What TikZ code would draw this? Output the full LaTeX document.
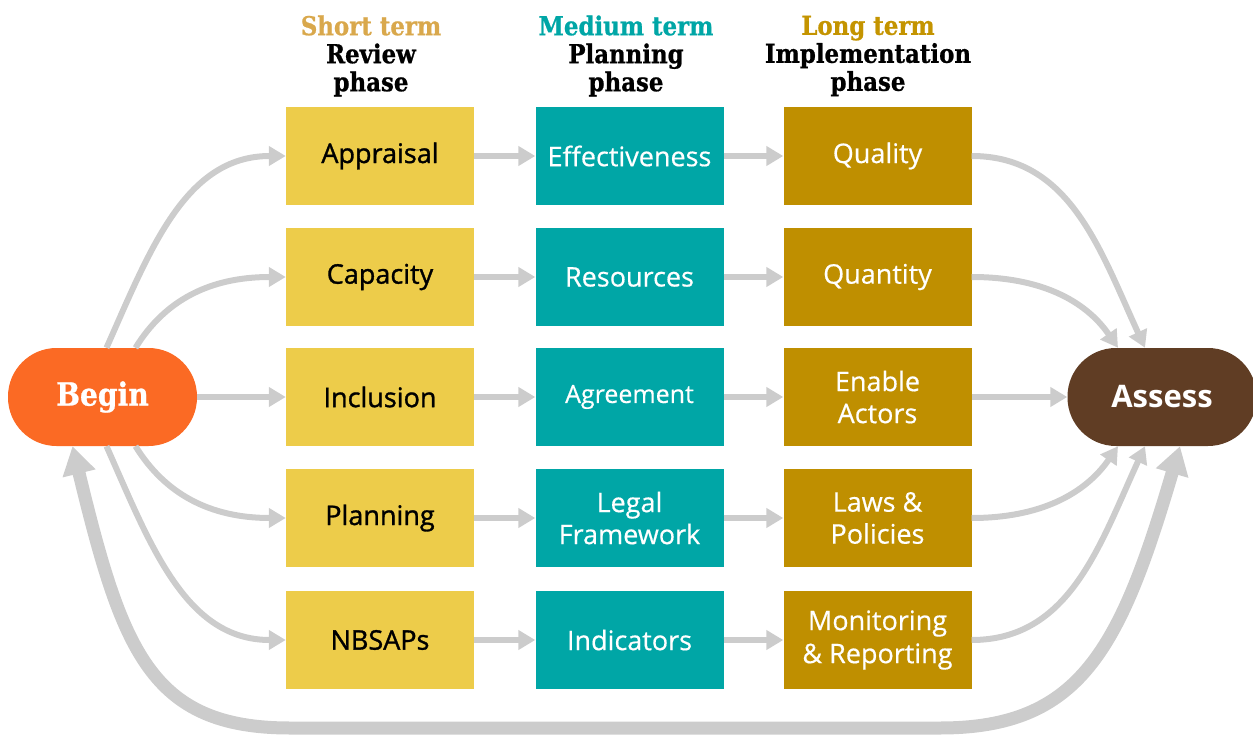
\documentclass[tikz,border=0pt]{standalone}
\usepackage{fontspec}
\setmainfont{Open Sans}
\newfontfamily\slabfont[FakeStretch=0.88,FakeBold=0.8]{DejaVu Serif}
\newfontfamily\sbfont[FakeBold=1.2]{Open Sans}
\newfontfamily\mdfont[FakeBold=0.5]{Open Sans}
\usetikzlibrary{arrows.meta}
\definecolor{cyel}{HTML}{EDCC4A}
\definecolor{cteal}{HTML}{00A6A6}
\definecolor{cgold}{HTML}{BF8F00}
\definecolor{corange}{HTML}{FB6A24}
\definecolor{cbrown}{HTML}{603D24}
\definecolor{cgray}{HTML}{CCCCCC}
\definecolor{cshort}{HTML}{D9A84C}
\definecolor{cmed}{HTML}{00A6A6}
\definecolor{clong}{HTML}{C49400}
\begin{document}
\begin{tikzpicture}[x=1pt,y=-1pt,
  box/.style={minimum width=188pt,minimum height=98pt,inner sep=0pt,align=center},
  yelbox/.style={box,fill=cyel,text=black,font=\sbfont\fontsize{27}{32}\selectfont},
  tealbox/.style={box,fill=cteal,text=white,font=\mdfont\fontsize{27}{32}\selectfont},
  goldbox/.style={box,fill=cgold,text=white,font=\mdfont\fontsize{27}{32}\selectfont},
  pill/.style={minimum width=189pt,minimum height=98pt,inner sep=0pt,rounded corners=48.5pt,text=white},
  flow/.style={draw=cgray,line width=6pt,-{Triangle[length=17pt,width=19pt]}},
  bigflow/.style={draw=cgray,line width=13pt,{Triangle[length=28pt,width=32pt]}-{Triangle[length=28pt,width=32pt]}},
  hdr/.style={align=center,inner sep=0pt,text=black,font=\slabfont\bfseries\fontsize{26}{28}\selectfont}
]
\useasboundingbox (0,0) rectangle (1253,735);

% headers
\node[hdr] (h1) at (371,56) {{\color{cshort}Short term}\\Review\\phase};
\node[hdr] (h2) at (626,56) {{\color{cmed}Medium term}\\Planning\\phase};
\node[hdr] (h3) at (868,56) {{\color{clong}Long term}\\Implementation\\phase};

% column 1
\node[yelbox] (app) at (380,156) {Appraisal};
\node[yelbox] (cap) at (380,277) {Capacity};
\node[yelbox] (inc) at (380,397) {Inclusion};
\node[yelbox] (pla) at (380,518) {Planning};
\node[yelbox] (nbs) at (380,640) {NBSAPs};
% column 2
\node[tealbox] (eff) at (629.5,156) {Effectiveness};
\node[tealbox] (res) at (629.5,277) {Resources};
\node[tealbox,font=\mdfont\fontsize{25}{30}\selectfont] (agr) at (629.5,397) {Agreement};
\node[tealbox] (leg) at (629.5,518) {Legal\\Framework};
\node[tealbox] (ind) at (629.5,640) {Indicators};
% column 3
\node[goldbox] (qual) at (877.5,156) {Quality};
\node[goldbox] (quan) at (877.5,277) {Quantity};
\node[goldbox] (ena) at (877.5,397) {Enable\\Actors};
\node[goldbox] (law) at (877.5,518) {Laws \&\\Policies};
\node[goldbox,font=\mdfont\fontsize{27}{33}\selectfont] (mon) at (877.5,640) {Monitoring\\\& Reporting};

% pills
\node[pill,fill=corange,font=\slabfont\bfseries\fontsize{32}{36}\selectfont] (begin) at (102.5,397) {Begin};
\node[pill,fill=cbrown,font=\bfseries\fontsize{31}{36}\selectfont] (assess) at (1162,397) {Assess};

% big return arrow
\draw[bigflow] ([xshift=-30pt]begin.south) .. controls (122,650) and (150,728) .. (290,728) -- (940,728) .. controls (1080,728) and (1120,650) .. ([xshift=18pt]assess.south);

% from Begin
\draw[flow] ([xshift=4pt]begin.north) .. controls (150,250) and (185,156) .. (app.west);
\draw[flow] ([xshift=33pt]begin.north) .. controls (165,300) and (210,277) .. (cap.west);
\draw[flow] (begin.east) -- (inc.west);
\draw[flow] ([xshift=33pt]begin.south) .. controls (165,494) and (210,518) .. (pla.west);
\draw[flow] ([xshift=4pt]begin.south) .. controls (150,544) and (185,640) .. (nbs.west);

% between columns
\foreach \a/\b in {app/eff,cap/res,inc/agr,pla/leg,nbs/ind,eff/qual,res/quan,agr/ena,leg/law,ind/mon}
  \draw[flow] (\a.east) -- (\b.west);

% to Assess
\draw[flow] (qual.east) .. controls (1070,156) and (1100,250) .. ([xshift=-17pt]assess.north);
\draw[flow] (quan.east) .. controls (1040,277) and (1085,300) .. ([xshift=-44pt]assess.north);
\draw[flow] (ena.east) -- (assess.west);
\draw[flow] (law.east) .. controls (1040,518) and (1085,494) .. ([xshift=-44pt]assess.south);
\draw[flow] (mon.east) .. controls (1070,640) and (1100,544) .. ([xshift=-17pt]assess.south);
\end{tikzpicture}
\end{document}
